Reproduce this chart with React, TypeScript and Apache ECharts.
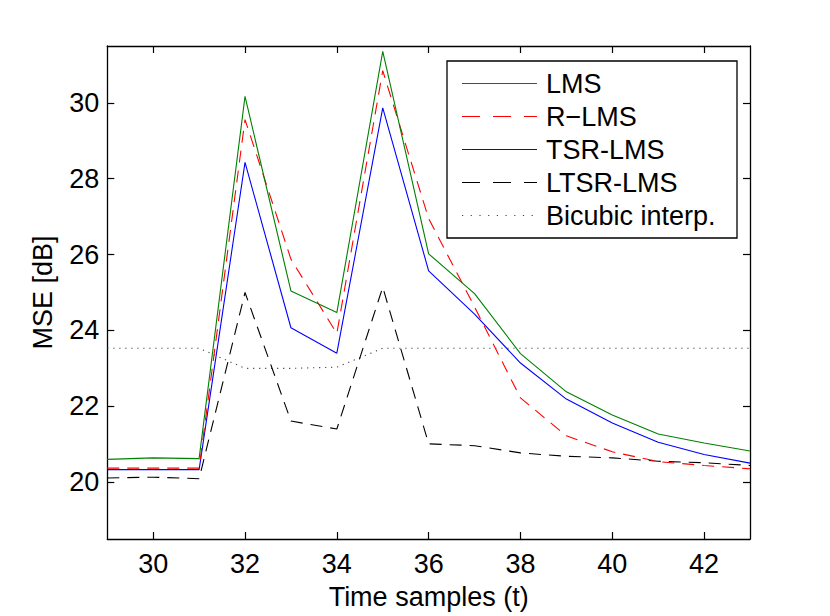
import React, { useEffect, useRef } from "react";
import * as echarts from "echarts";

const xValues = [29, 30, 31, 32, 33, 34, 35, 36, 37, 38, 39, 40, 41, 42, 43];
const lms = [20.6, 20.64, 20.62, 30.17, 25.04, 24.47, 31.36, 26.02, 24.97, 23.39, 22.38, 21.77, 21.27, 21.03, 20.82];
const rlms = [20.37, 20.37, 20.37, 29.56, 25.88, 23.92, 30.85, 26.95, 24.62, 22.22, 21.22, 20.8, 20.54, 20.44, 20.35];
const tsrlms = [20.33, 20.33, 20.33, 28.43, 24.07, 23.4, 29.87, 25.57, 24.43, 23.14, 22.19, 21.56, 21.05, 20.73, 20.5];
const ltsrlms = [20.11, 20.13, 20.09, 25.0, 21.61, 21.4, 25.14, 21.01, 20.96, 20.77, 20.68, 20.64, 20.55, 20.51, 20.44];
const bicubic = [23.53, 23.53, 23.53, 23.0, 23.0, 23.03, 23.53, 23.53, 23.53, 23.53, 23.53, 23.53, 23.53, 23.53, 23.53];

const xTicks = [30, 32, 34, 36, 38, 40, 42];
const yTicks = [20, 22, 24, 26, 28, 30];

const seriesNames = ["LMS", "R\u2212LMS", "TSR-LMS", "LTSR-LMS", "Bicubic interp."];
const seriesData = [lms, rlms, tsrlms, ltsrlms, bicubic];
const seriesColors = ["#008000", "#ff0000", "#0000ff", "#000000", "#444444"];
const seriesDash: (number[] | string)[] = ["solid", [12, 8], "solid", [12, 8], [1.2, 4.8]];
const legendDash: (number[] | null)[] = [null, [18, 13], null, [18, 13], [1.2, 7.5]];

const FONT = "'Liberation Sans', Arial, Helvetica, sans-serif";
const FS = 27;

export default function App() {
  const ref = useRef<HTMLDivElement>(null);
  useEffect(() => {
    if (!ref.current) return;
    const chart = echarts.init(ref.current, null, { renderer: "svg" });
    const axisLine = { show: true, onZero: false, lineStyle: { color: "#000", width: 1.3 } };
    const tickStyle = { color: "#000", width: 1.2 };

    const legendGraphics: any[] = [
      {
        type: "rect",
        shape: { x: 447, y: 61, width: 290, height: 177 },
        style: { fill: "#fff", stroke: "#000", lineWidth: 1.3 },
        z: 100,
      },
    ];
    seriesNames.forEach((name, i) => {
      const cy = 83.5 + i * 33;
      legendGraphics.push({
        type: "line",
        shape: { x1: 462, y1: cy, x2: 537, y2: cy },
        style: {
          stroke: seriesColors[i],
          lineWidth: 1.2,
          lineDash: legendDash[i] || undefined,
        },
        z: 101,
      });
      legendGraphics.push({
        type: "text",
        x: 546,
        y: cy,
        style: {
          text: name,
          fill: "#000",
          font: `${FS}px ${FONT}`,
          textVerticalAlign: "middle",
          verticalAlign: "middle",
        },
        z: 101,
      });
    });

    chart.setOption({
      animation: false,
      backgroundColor: "#fff",
      grid: { left: 107.3, right: 80, top: 46, bottom: 77, containLabel: false },
      xAxis: [
        {
          type: "value",
          min: 29,
          max: 43,
          position: "bottom",
          axisLine,
          splitLine: { show: false },
          axisTick: { show: true, inside: true, length: 7, customValues: xTicks, lineStyle: tickStyle },
          axisLabel: {
            customValues: xTicks,
            color: "#000",
            fontSize: FS,
            fontFamily: FONT,
            margin: 11,
          },
          name: "Time samples (t)",
          nameLocation: "middle",
          nameGap: 44,
          nameTextStyle: { color: "#000", fontSize: FS, fontFamily: FONT },
        },
        {
          type: "value",
          min: 29,
          max: 43,
          position: "top",
          axisLine,
          splitLine: { show: false },
          axisTick: { show: true, inside: true, length: 7, customValues: xTicks, lineStyle: tickStyle },
          axisLabel: { show: false },
        },
      ],
      yAxis: [
        {
          type: "value",
          min: 18.5,
          max: 31.5,
          position: "left",
          axisLine,
          splitLine: { show: false },
          axisTick: { show: true, inside: true, length: 7, customValues: yTicks, lineStyle: tickStyle },
          axisLabel: {
            customValues: yTicks,
            color: "#000",
            fontSize: FS,
            fontFamily: FONT,
            margin: 8,
          },
          name: "MSE [dB]",
          nameLocation: "middle",
          nameGap: 51,
          nameTextStyle: { color: "#000", fontSize: FS, fontFamily: FONT },
        },
        {
          type: "value",
          min: 18.5,
          max: 31.5,
          position: "right",
          axisLine,
          splitLine: { show: false },
          axisTick: { show: true, inside: true, length: 7, customValues: yTicks, lineStyle: tickStyle },
          axisLabel: { show: false },
        },
      ],
      series: seriesNames.map((name, i) => ({
        name,
        type: "line",
        xAxisIndex: 0,
        yAxisIndex: 0,
        symbol: "none",
        data: xValues.map((x, j) => [x, seriesData[i][j]]),
        lineStyle: { color: seriesColors[i], width: 1.1, type: seriesDash[i] },
        itemStyle: { color: seriesColors[i] },
        z: 10 - i,
      })),
      graphic: legendGraphics,
    });
    return () => chart.dispose();
  }, []);
  return (
    <div
      ref={ref}
      style={{ position: "fixed", left: 0, top: 0, width: 830, height: 616, background: "#fff" }}
    />
  );
}
